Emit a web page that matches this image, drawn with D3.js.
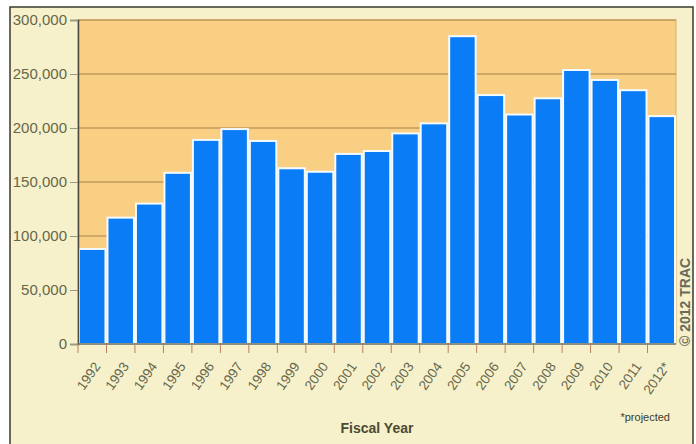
<!DOCTYPE html>
<html>
<head>
<meta charset="utf-8">
<script src="https://cdn.jsdelivr.net/npm/d3@7"></script>
<style>
  body { margin: 0; background: #fff; }
  svg { display: block; font-family: Arial, "Liberation Sans", sans-serif; }
</style>
</head>
<body>
<svg id="chart" width="696" height="444"></svg>
<script>
// fiscal years and values
const years = ["1992", "1993", "1994", "1995", "1996", "1997", "1998", "1999", "2000", "2001", "2002",
	"2003", "2004", "2005", "2006", "2007", "2008", "2009", "2010", "2011", "2012*"];
const counts = [88000, 117000, 130000, 158500, 189000, 199000, 188000, 162700, 159500, 176000, 178700,
	195000, 204300, 285000, 230500, 212500, 227500, 253700, 244500, 235000, 211000];
const y_ticks = [0, 50000, 100000, 150000, 200000, 250000, 300000];

const svg = d3.select("#chart");
const plot = { left: 78, top: 20, right: 676, bottom: 344 };

// outer frame
svg.append("rect")
	.attr("x", 10).attr("y", 7)
	.attr("width", 683).attr("height", 450)
	.style("fill", "#f6f1ca")
	.style("stroke", "#3a3a30")
	.style("stroke-width", 1.5);

const x = d3.scaleBand()
	.domain(years)
	.range([plot.left, plot.right])
	.padding(0);

const y = d3.scaleLinear()
	.domain([0, 300000])
	.range([plot.bottom, plot.top]);

// plot background
svg.append("rect")
	.attr("x", plot.left).attr("y", plot.top)
	.attr("width", plot.right - plot.left).attr("height", plot.bottom - plot.top)
	.style("fill", "#f9cf84")
	.style("stroke", "#d8b070");

// gridlines
svg.append("g")
	.selectAll("line")
	.data(y_ticks.filter(d => d > 0))
	.join("line")
	.attr("x1", plot.left).attr("x2", plot.right)
	.attr("y1", d => y(d)).attr("y2", d => y(d))
	.style("stroke", "#c59b5e")
	.style("stroke-width", 1.5);

// bars
svg.append("g")
	.selectAll("rect")
	.data(counts)
	.join("rect")
	.attr("x", (d, i) => x(years[i]) + 1)
	.attr("y", d => y(d))
	.attr("width", x.bandwidth() - 2)
	.attr("height", d => y(0) - y(d))
	.style("fill", "#0a7cf6")
	.style("stroke", "#f4fbff")
	.style("stroke-width", 2);

// y axis
const yAxis = svg.append("g")
	.attr("transform", "translate(" + plot.left + ",0)")
	.call(d3.axisLeft(y).tickValues(y_ticks).tickSize(8).tickPadding(3).tickFormat(d3.format(",")));
yAxis.select(".domain").style("stroke", "#4a4a40").style("stroke-width", 1.5);
yAxis.selectAll(".tick line").style("stroke", "#9a9a80");
yAxis.selectAll(".tick text")
	.style("font-size", "15px")
	.style("fill", "#66664c");

// x axis: ticks sit on band edges
const xAxis = svg.append("g")
	.attr("transform", "translate(0," + plot.bottom + ")");
xAxis.append("line")
	.attr("x1", plot.left).attr("x2", plot.right)
	.style("stroke", "#6a6a58").style("stroke-width", 1.5);
xAxis.selectAll("line.tick")
	.data(years)
	.join("line")
	.attr("class", "tick")
	.attr("x1", d => x(d)).attr("x2", d => x(d))
	.attr("y1", 0).attr("y2", 9)
	.style("stroke", "#b88060");
xAxis.selectAll("text")
	.data(years)
	.join("text")
	.attr("transform", d => "translate(" + (x(d) + x.bandwidth() / 2 + 1) + ",17) rotate(-55)")
	.attr("text-anchor", "end")
	.attr("dy", "0.7em")
	.style("font-size", "13.5px")
	.style("fill", "#66664c")
	.text(d => d);

// axis title and notes
svg.append("text")
	.attr("x", 377).attr("y", 433)
	.attr("text-anchor", "middle")
	.style("font-size", "14px")
	.style("font-weight", "bold")
	.style("fill", "#4a4a36")
	.text("Fiscal Year");

svg.append("text")
	.attr("x", 670).attr("y", 421)
	.attr("text-anchor", "end")
	.style("font-size", "11px")
	.style("fill", "#3a3a30")
	.text("*projected");

svg.append("text")
	.attr("transform", "translate(690,346) rotate(-90)")
	.style("font-size", "14px")
	.style("font-weight", "bold")
	.style("fill", "#6a6a5a")
	.text("© 2012 TRAC");
</script>
</body>
</html>
